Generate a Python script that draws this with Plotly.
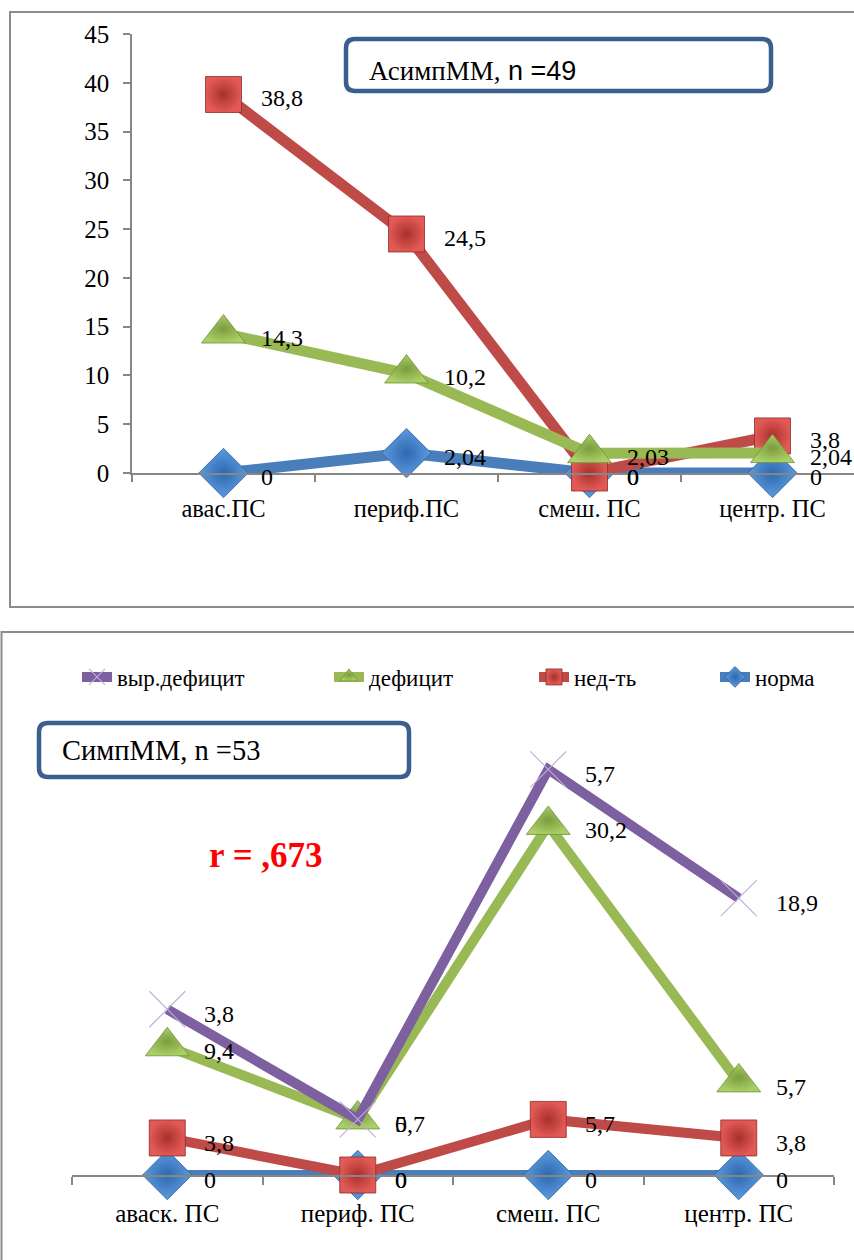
import numpy as np
import plotly.graph_objects as go

W, H = 854, 1260

# ---------------- data ----------------
top_categories = ["авас.ПС", "периф.ПС", "смеш. ПС", "центр. ПС"]
top_norma = [0, 2.04, 0, 0]
top_ned = [38.8, 24.5, 0, 3.8]
top_deficit = [14.3, 10.2, 2.03, 2.04]
top_yticks = [0, 5, 10, 15, 20, 25, 30, 35, 40, 45]

bot_categories = ["аваск. ПС", "периф. ПС", "смеш. ПС", "центр. ПС"]
bot_norma = [0, 0, 0, 0]
bot_ned = [3.8, 0, 5.7, 3.8]
bot_deficit = [9.4, 5.7, 30.2, 5.7]
bot_vyr = [3.8, 0, 5.7, 18.9]

# ---------------- styles ----------------
SERIF = "Liberation Serif"
SANS = "Liberation Sans"
C_BLUE, C_RED, C_GREEN, C_PURPLE = "#4A7EBB", "#BE4B48", "#98B954", "#7D60A0"
GRAY = "#868686"


def px(x):
    return x / W


def py(y):
    return 1 - y / H


def fmt(v):
    return f"{v:g}".replace(".", ",")


marker_styles = {
    "норма": dict(symbol="diamond", size=38, color="#5C9BE0",
                  gradient=dict(type="radial", color="#2F68AE"),
                  line=dict(color="#2F5F99", width=0.8)),
    "нед-ть": dict(symbol="square", size=36, color="#E25A56",
                   gradient=dict(type="radial", color="#A8302D"),
                   line=dict(color="#8E2B29", width=0.8)),
    "дефицит": dict(symbol="triangle-up", size=38, color="#AACF66",
                    gradient=dict(type="radial", color="#7C9C3E"),
                    line=dict(color="#71903A", width=0.8)),
    "выр.дефицит": dict(symbol="x-thin", size=36, color="#BCAEDA",
                        line=dict(color="#BCAEDA", width=1.1)),
}
line_colors = {"норма": C_BLUE, "нед-ть": C_RED, "дефицит": C_GREEN, "выр.дефицит": C_PURPLE}
legend_ids = {"выр.дефицит": "legend", "дефицит": "legend2", "нед-ть": "legend3", "норма": "legend4"}
legend_text_x = {"выр.дефицит": 120, "дефицит": 372, "нед-ть": 577, "норма": 758}

fig = go.Figure()

# ---------------- top chart ----------------
top_series = [("норма", top_norma), ("нед-ть", top_ned), ("дефицит", top_deficit)]
for name, vals in top_series:
    fig.add_trace(go.Scatter(
        x=top_categories, y=vals, name=name, mode="lines+markers",
        line=dict(color=line_colors[name], width=11),
        marker=marker_styles[name], showlegend=False, cliponaxis=False,
        xaxis="x", yaxis="y"))

annotations = []
for name, vals in top_series:
    for c, v in zip(top_categories, vals):
        annotations.append(dict(x=c, y=v, xref="x", yref="y", text=fmt(v),
                                showarrow=False, xanchor="left", yanchor="middle",
                                xshift=35, yshift=-4,
                                font=dict(family=SERIF, size=24, color="black")))

# ---------------- bottom chart (stacked lines) ----------------
bot_series = [("норма", bot_norma), ("нед-ть", bot_ned), ("дефицит", bot_deficit), ("выр.дефицит", bot_vyr)]
for name, vals in bot_series:
    fig.add_trace(go.Scatter(
        x=bot_categories, y=vals, name=name, mode="lines+markers",
        stackgroup="s", fill="none",
        line=dict(color=line_colors[name], width=10),
        marker=marker_styles[name], showlegend=True, legend=legend_ids[name],
        cliponaxis=False, xaxis="x2", yaxis="y2"))

cum = np.cumsum(np.array([v for _, v in bot_series], dtype=float), axis=0)
for k, (name, vals) in enumerate(bot_series):
    for i, (c, v) in enumerate(zip(bot_categories, vals)):
        annotations.append(dict(x=c, y=cum[k, i], xref="x2", yref="y2", text=fmt(v),
                                showarrow=False, xanchor="left", yanchor="middle",
                                xshift=35, yshift=-5,
                                font=dict(family=SERIF, size=24, color="black")))

# ---------------- text boxes ----------------
annotations.append(dict(
    x=px(367), y=py(71), xref="paper", yref="paper", xanchor="left", yanchor="middle",
    showarrow=False,
    text=('АсимпММ,<span style="font-family:Liberation Sans"> n =49</span>'),
    font=dict(family=SERIF, size=27, color="black")))
annotations.append(dict(
    x=px(60), y=py(750), xref="paper", yref="paper", xanchor="left", yanchor="middle",
    showarrow=False, text="СимпММ, n =53",
    font=dict(family=SERIF, size=28.5, color="black")))
annotations.append(dict(
    x=px(207), y=py(855), xref="paper", yref="paper", xanchor="left", yanchor="middle",
    showarrow=False, text="<b>r = ,673</b>",
    font=dict(family=SERIF, size=35, color="#FF0000")))


def rounded_path(x0, y0, x1, y1, r):
    pts = [
        ("M", [(x0 + r, y0)]), ("L", [(x1 - r, y0)]), ("Q", [(x1, y0), (x1, y0 + r)]),
        ("L", [(x1, y1 - r)]), ("Q", [(x1, y1), (x1 - r, y1)]),
        ("L", [(x0 + r, y1)]), ("Q", [(x0, y1), (x0, y1 - r)]),
        ("L", [(x0, y0 + r)]), ("Q", [(x0, y0), (x0 + r, y0)]),
    ]
    s = ""
    for cmd, ps in pts:
        s += cmd + " " + " ".join(f"{px(a):.5f},{py(b):.5f}" for a, b in ps) + " "
    return s + "Z"


shapes = [
    dict(type="rect", xref="paper", yref="paper", x0=px(10), x1=1.02, y0=py(12), y1=py(607),
         line=dict(color="#8C8C8C", width=2), fillcolor="rgba(0,0,0,0)", layer="below"),
    dict(type="rect", xref="paper", yref="paper", x0=px(1.5), x1=1.02, y0=py(632), y1=-0.02,
         line=dict(color="#8C8C8C", width=2), fillcolor="rgba(0,0,0,0)", layer="below"),
    dict(type="path", xref="paper", yref="paper", path=rounded_path(346, 39, 771, 91, 9),
         line=dict(color="#3B5F8C", width=4.5), fillcolor="white"),
    dict(type="path", xref="paper", yref="paper", path=rounded_path(39, 723, 409, 777, 9),
         line=dict(color="#3B5F8C", width=4.5), fillcolor="white"),
]

top_span = (W - 132) / 183.0

legend_common = dict(orientation="h", yanchor="middle", xanchor="left",
                     font=dict(family=SERIF, size=23, color="black"),
                     bgcolor="rgba(0,0,0,0)")
legends = {}
for name, lid in legend_ids.items():
    legends[lid] = dict(legend_common, x=px(legend_text_x[name] - 43), y=py(677))

fig.update_layout(
    width=W, height=H,
    margin=dict(l=0, r=0, t=0, b=0, autoexpand=False),
    paper_bgcolor="white", plot_bgcolor="rgba(0,0,0,0)",
    font=dict(family=SERIF, color="black"),
    showlegend=True,
    xaxis=dict(domain=[px(132), 1], range=[-0.5, -0.5 + top_span], type="category",
               showline=True, linecolor=GRAY, linewidth=1.5, ticks="outside", ticklen=7,
               tickcolor=GRAY, tickwidth=1.5, tickson="boundaries", showgrid=False,
               zeroline=False, tickfont=dict(family=SERIF, size=24.5, color="black"),
               ticklabelstandoff=13, anchor="y", automargin=False),
    yaxis=dict(domain=[py(473), py(34)], range=[0, 45], tickvals=top_yticks,
               showline=True, linecolor=GRAY, linewidth=1.5, ticks="outside", ticklen=7,
               tickcolor=GRAY, tickwidth=1.5, showgrid=False, zeroline=False,
               tickfont=dict(family=SERIF, size=25, color="black"),
               ticklabelstandoff=9, anchor="x", automargin=False),
    xaxis2=dict(domain=[px(72), px(834)], range=[-0.5, 3.5], type="category",
                showline=True, linecolor=GRAY, linewidth=1.5, ticks="outside", ticklen=8,
                tickcolor=GRAY, tickwidth=1.5, tickson="boundaries", showgrid=False,
                zeroline=False, tickfont=dict(family=SERIF, size=25, color="black"),
                ticklabelstandoff=15, anchor="y2", automargin=False),
    yaxis2=dict(domain=[py(1175), py(700)], range=[0, (1175 - 700) / 9.75], visible=False,
                showgrid=False, zeroline=False, anchor="x2", automargin=False),
    annotations=annotations,
    shapes=shapes,
    **legends,
)

fig.write_html("out.html", config={"displayModeBar": False},
               post_script="document.body.style.margin='0';document.body.style.overflow='hidden';")
